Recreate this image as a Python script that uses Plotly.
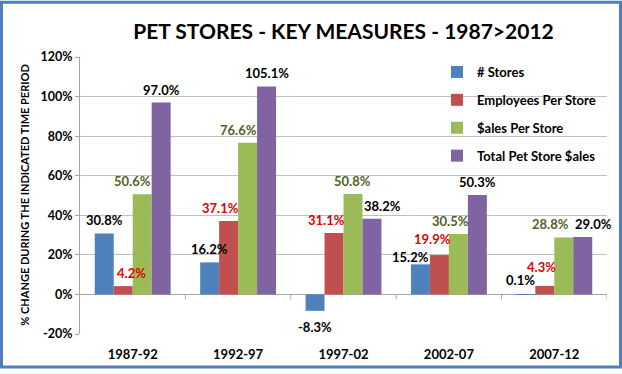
import plotly.graph_objects as go

categories = ["1987-92", "1992-97", "1997-02", "2002-07", "2007-12"]
stores = [30.8, 16.2, -8.3, 15.2, 0.1]
employees_per_store = [4.2, 37.1, 31.1, 19.9, 4.3]
sales_per_store = [50.6, 76.6, 50.8, 30.5, 28.8]
total_sales = [97.0, 105.1, 38.2, 50.3, 29.0]
series_names = ["# Stores", "Employees Per Store", "$ales Per Store", "Total Pet Store $ales"]
y_ticks = [-20, 0, 20, 40, 60, 80, 100, 120]

series_values = [stores, employees_per_store, sales_per_store, total_sales]
bar_colors = ["#4F81BD", "#C0504D", "#9BBB59", "#8064A2"]
label_colors = ["#000000", "#E00000", "#4F6228", "#000000"]
# per-label horizontal nudges (px), like manual label placement in the original
label_dx = [
    [0, 0, 0, -10, -5],
    [8, -8, -8, -7, -3],
    [-10, -9, 0, -8, -13],
    [0, 0, 11, 0, 11],
]
label_dy = [
    [13, 13, -16, 7, 14],
    [13, 13, 13, 16, 19],
    [13, 13, 13, 13, 13],
    [13, 13, 13, 13, 13],
]

FONT = "Lato"
BARGAP = 0.28
n_series = len(series_values)
bar_w = (1 - BARGAP) / n_series

fig = go.Figure()
for si, (name, vals) in enumerate(zip(series_names, series_values)):
    fig.add_trace(go.Bar(
        x=categories, y=vals, name=name,
        marker=dict(color=bar_colors[si], line=dict(width=0)),
        legendgroup=f"g{si}",
    ))

annotations = []
for si, vals in enumerate(series_values):
    for ci, v in enumerate(vals):
        xpos = ci + (si - (n_series - 1) / 2) * bar_w
        annotations.append(dict(
            x=xpos, y=v, xref="x", yref="y", text=f"{v:.1f}%",
            showarrow=False, xanchor="center", yanchor="middle",
            xshift=label_dx[si][ci], yshift=label_dy[si][ci],
            font=dict(family=FONT, size=13, color=label_colors[si], weight="bold"),
        ))

annotations.append(dict(
    text="% CHANGE DURING THE INDICATED TIME PERIOD", textangle=-90,
    xref="paper", yref="paper", x=-0.106, y=0.5, xanchor="center", yanchor="middle",
    showarrow=False, font=dict(family=FONT, size=11, color="#000000", weight="bold"),
))

shapes = []
for b in range(len(categories)):
    shapes.append(dict(type="line", xref="x", yref="y", x0=b + 0.5, x1=b + 0.5,
                       ysizemode="pixel", yanchor=0, y0=0, y1=-5,
                       line=dict(color="#A6A6A6", width=1)))
# outer blue frame
shapes.append(dict(type="rect", xref="paper", yref="paper",
                   x0=(1.5 - 80) / 527, x1=(620.5 - 80) / 527,
                   y0=(338 - 371.5) / 281, y1=(338 - 1.5) / 281,
                   line=dict(color="#4F7FC0", width=3), layer="above"))

fig.update_layout(
    width=622, height=374,
    margin=dict(l=80, r=15, t=57, b=36),
    paper_bgcolor="white", plot_bgcolor="white",
    barmode="group", bargap=BARGAP, bargroupgap=0,
    title=dict(text="PET STORES - KEY MEASURES - 1987>2012", x=0.5, xref="paper",
               xanchor="center", y=1 - 32 / 374, yanchor="middle",
               font=dict(family=FONT, size=21, color="#000000", weight="bold")),
    font=dict(family=FONT, color="#000000"),
    legend=dict(x=(437 - 80) / 527, y=1.0, xanchor="left", yanchor="top",
                bgcolor="rgba(0,0,0,0)", tracegroupgap=8,
                font=dict(family=FONT, size=13, color="#000000", weight="bold")),
    showlegend=True,
    annotations=annotations,
    shapes=shapes,
)
fig.update_yaxes(range=[-20, 120], tickvals=y_ticks,
                 ticktext=[f"{t}%" for t in y_ticks],
                 showgrid=True, gridcolor="#C0C0C0", gridwidth=1,
                 zeroline=True, zerolinecolor="#A6A6A6", zerolinewidth=1,
                 showline=True, linecolor="#A6A6A6", linewidth=1,
                 ticks="outside", ticklen=4, tickcolor="#A6A6A6",
                 tickfont=dict(family=FONT, size=12.5, color="#000000", weight="bold"),
                 fixedrange=True)
fig.update_xaxes(type="category", range=[-0.5, len(categories) - 0.5],
                 showgrid=False, showline=False, zeroline=False,
                 ticks="outside", ticklen=8, tickcolor="rgba(0,0,0,0)",
                 tickfont=dict(family=FONT, size=13, color="#000000", weight="bold"),
                 fixedrange=True)

fig.write_html("out.html", config={"displayModeBar": False},
               post_script="document.body.style.margin='0';")
